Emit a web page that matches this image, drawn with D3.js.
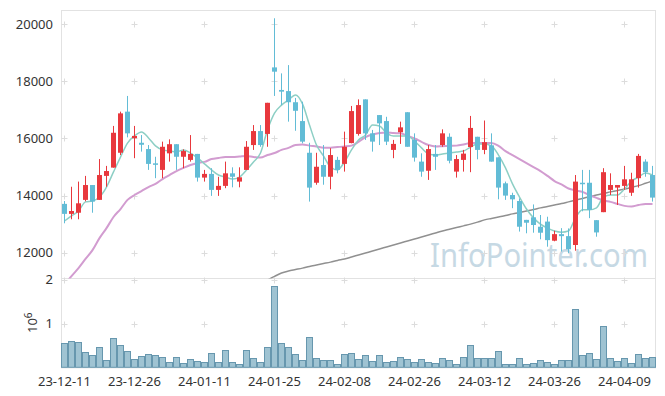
<!DOCTYPE html>
<html>
<head>
<meta charset="utf-8">
<script src="https://cdn.jsdelivr.net/npm/d3@7"></script>
<style>
body{margin:0;background:#fff;}
text{font-family:"Noto Sans",sans-serif;}
</style>
</head>
<body>
<div class="chart-wrapper"></div>
<script>
// trading days, 23-12-11 .. 24-04-16
var dates = ["23-12-11","23-12-12","23-12-13","23-12-14","23-12-15","23-12-18","23-12-19","23-12-20","23-12-21","23-12-22",
  "23-12-26","23-12-27","23-12-28","24-01-02","24-01-03","24-01-04","24-01-05","24-01-08","24-01-09","24-01-10",
  "24-01-11","24-01-12","24-01-15","24-01-16","24-01-17","24-01-18","24-01-19","24-01-22","24-01-23","24-01-24",
  "24-01-25","24-01-26","24-01-29","24-01-30","24-01-31","24-02-01","24-02-02","24-02-05","24-02-06","24-02-07",
  "24-02-08","24-02-13","24-02-14","24-02-15","24-02-16","24-02-19","24-02-20","24-02-21","24-02-22","24-02-23",
  "24-02-26","24-02-27","24-02-28","24-02-29","24-03-04","24-03-05","24-03-06","24-03-07","24-03-08","24-03-11",
  "24-03-12","24-03-13","24-03-14","24-03-15","24-03-18","24-03-19","24-03-20","24-03-21","24-03-22","24-03-25",
  "24-03-26","24-03-27","24-03-28","24-03-29","24-04-01","24-04-02","24-04-03","24-04-04","24-04-05","24-04-08",
  "24-04-09","24-04-11","24-04-12","24-04-15","24-04-16"];

var opens = [13710,13360,13400,13850,14370,13850,14690,14980,15500,16940,
  16010,15850,15630,15130,14900,15480,15800,15360,15250,15460,
  14630,14760,14200,14340,14780,14490,14900,15770,16260,16160,
  18490,17700,17660,17270,16610,15500,14450,15070,14660,15250,
  15110,15840,16160,17370,16180,16820,16610,15600,16220,16920,
  15950,15190,14870,15460,15770,16060,14840,15250,15700,16060,
  15600,15760,15340,14430,14020,13810,13150,13240,12910,13090,
  12420,12650,12580,12270,14450,14450,13140,13420,14200,14280,
  14340,14100,14610,15190,14720];
var highs = [13810,14310,14490,14690,14370,15280,15040,16440,16940,17490,
  16440,16120,15770,15360,15890,15970,15800,15620,16120,15460,
  14900,14960,14660,15190,14990,14990,15910,16470,16470,17250,
  20210,18280,18570,17420,17290,15850,15500,15770,15660,15360,
  16240,17140,17370,17370,16300,16820,16760,15950,16590,16920,
  16180,15480,15770,15770,16320,16180,15420,15600,16790,16060,
  16630,16180,15340,14490,14100,13900,13150,13690,13320,13260,
  12770,12860,12850,14720,14900,14900,13140,14960,14780,14370,
  15040,14800,15460,15270,15040];
var lows = [13030,13170,13170,13800,13400,13850,14310,14980,15420,16040,
  15310,15540,14900,14610,14610,15190,14900,14960,15190,14490,
  14490,13990,13990,14260,14290,14290,14900,15600,15710,15710,
  17490,17170,16590,16270,15830,13790,14380,14380,14220,14780,
  14840,15830,16100,15950,15540,15770,15770,15310,15810,15710,
  15190,14660,14550,14900,15710,15130,14630,14840,14820,15270,
  15450,15190,13870,13850,13560,12740,12680,12700,12470,12210,
  12400,12040,11980,12070,13450,13210,12560,13420,14020,13670,
  14200,13990,14280,14660,13790];
var closes = [13360,13460,13730,14370,13790,14720,14860,16200,16880,16180,
  16090,15780,15110,15080,15710,15800,15360,15560,15460,14630,
  14760,14200,14340,14780,14660,14640,15710,16260,15770,17250,
  18340,17640,17270,16970,15890,14280,15010,14660,15420,14900,
  15710,16960,17170,16180,15890,16530,15890,15810,16390,15710,
  15330,14840,15630,15360,16180,15220,15280,15470,16370,15600,
  15870,15190,14280,14000,13870,12910,13050,12970,12700,12440,
  12650,12580,12120,14490,14400,13500,12710,14820,14370,14370,
  14570,14570,15390,14820,13930];

// volume, millions of shares
var volumes = [0.55,0.60,0.58,0.34,0.27,0.46,0.17,0.66,0.50,0.37,
  0.18,0.25,0.30,0.27,0.23,0.11,0.23,0.09,0.18,0.14,
  0.11,0.32,0.11,0.39,0.11,0.07,0.39,0.21,0.11,0.46,
  1.86,0.55,0.46,0.30,0.16,0.69,0.21,0.16,0.16,0.07,
  0.30,0.32,0.18,0.27,0.14,0.27,0.11,0.14,0.23,0.18,
  0.11,0.18,0.11,0.09,0.21,0.16,0.07,0.23,0.50,0.21,
  0.21,0.21,0.37,0.07,0.07,0.21,0.07,0.09,0.16,0.11,
  0.07,0.16,0.16,1.32,0.27,0.32,0.18,0.94,0.21,0.14,
  0.21,0.09,0.30,0.21,0.23];

// moving averages as drawn
var ma5 = [13110,13290,13460,13780,13810,13950,14300,14830,15350,15840,
  16090,16230,16020,15740,15600,15560,15530,15600,15490,15320,
  15110,14900,14720,14650,14580,14650,14900,15180,15490,16300,
  16890,17170,17350,17520,17210,16470,15770,15390,15000,14900,
  15180,15600,15950,16120,16470,16440,16190,16090,16090,16090,
  15910,15670,15460,15420,15460,15490,15530,15560,15700,15810,
  15810,15740,15420,14970,14410,13950,13530,13220,13000,12860,
  12760,12720,12760,13220,13500,13500,13570,13950,14020,14020,
  14230,14510,14650,14790,14720];
var ma20 = [10870,11180,11460,11780,12090,12510,12860,13250,13530,13850,
  14020,14160,14300,14410,14580,14720,14860,14970,15070,15140,
  15180,15280,15320,15350,15350,15370,15390,15350,15330,15420,
  15490,15600,15670,15770,15790,15750,15720,15680,15680,15700,
  15720,15750,15880,16050,16140,16190,16210,16190,16180,16090,
  16000,15880,15770,15720,15730,15740,15750,15790,15840,15840,
  15840,15840,15740,15560,15420,15280,15140,15000,14860,14690,
  14510,14390,14250,14180,14130,14020,13920,13830,13780,13710,
  13640,13620,13670,13710,13710];
var ma120 = [null,null,null,null,null,null,null,null,null,null,
  null,null,null,null,null,null,null,null,null,null,
  null,null,null,null,null,null,null,null,null,11040,
  11170,11290,11360,11410,11460,11520,11570,11620,11670,11730,
  11780,11850,11920,11990,12060,12130,12200,12270,12340,12410,
  12480,12550,12620,12690,12760,12820,12880,12940,13000,13070,
  13150,13200,13250,13300,13360,13410,13460,13510,13570,13620,
  13670,13720,13780,13840,13900,13960,14020,14070,14130,14180,
  14230,14290,14350,14430,14510];

var priceTicks = [12000,14000,16000,18000,20000];
var volumeTicks = [1,2];
var dateTicks = ["23-12-11","23-12-26","24-01-11","24-01-25","24-02-08","24-02-26","24-03-12","24-03-26","24-04-09"];

var UP = "#e8383d", DOWN = "#62bcd6";

var plotLeft = 61, plotRight = 656, plotTop = 10, plotMid = 278.4, plotBottom = 367.3;

var svg = d3.select(".chart-wrapper").append("svg")
  .attr("width", 665)
  .attr("height", 396);

var x = d3.scaleBand().domain(dates).range([plotLeft, plotRight]).padding(0);
var bw = x.bandwidth();
var cx = function(d){ return x(d) + bw / 2; };

var y = d3.scaleLinear().domain([11100, 20500]).range([plotMid, plotTop]);
var yv = d3.scaleLinear().domain([0, 2.03]).range([plotBottom, plotMid]);

svg.append("clipPath").attr("id", "price-clip")
  .append("rect")
  .attr("x", plotLeft).attr("y", plotTop)
  .attr("width", plotRight - plotLeft).attr("height", plotMid - plotTop);

// watermark
svg.append("text")
  .attr("x", 430).attr("y", 267)
  .attr("textLength", 218)
  .attr("lengthAdjust", "spacingAndGlyphs")
  .style("font-size", "32px")
  .style("fill", "#b9d0de")
  .style("opacity", 0.8)
  .text("InfoPointer.com");

// frame
svg.append("rect")
  .attr("x", plotLeft + 0.5).attr("y", plotTop + 0.5)
  .attr("width", plotRight - plotLeft - 1).attr("height", plotBottom - plotTop)
  .style("fill", "none")
  .style("stroke", "#e2e2e2");
svg.append("line")
  .attr("x1", plotLeft).attr("x2", plotRight)
  .attr("y1", Math.round(plotMid) + 0.5).attr("y2", Math.round(plotMid) + 0.5)
  .style("stroke", "#e2e2e2");

// little crosses on tick intersections
var crossY = priceTicks.map(function(p){ return y(p); })
  .concat(volumeTicks.map(function(v){ return yv(v); }));
var crosses = svg.append("g").attr("class", "crosses");
dateTicks.forEach(function(d){
  crossY.forEach(function(cy){
    var px = Math.floor(cx(d)) + 0.5, py = Math.round(cy) + 0.5;
    crosses.append("path")
      .attr("d", "M" + (px - 3) + "," + py + "H" + (px + 3) + "M" + px + "," + (py - 3) + "V" + (py + 3))
      .style("stroke", "#dcdcdc");
  });
});

// volume bars
svg.append("g").selectAll(".vol")
  .data(volumes)
  .enter().append("rect")
  .attr("class", "vol")
  .attr("x", function(d, i){ return x(dates[i]) + 0.5; })
  .attr("y", function(d){ return Math.round(yv(d)) + 0.5; })
  .attr("width", bw - 1)
  .attr("height", function(d){ return plotBottom - Math.round(yv(d)) - 0.5; })
  .style("fill", "#9fc3d2")
  .style("stroke", "#6797ae")
  .style("stroke-width", 1);

// moving averages
var plot = svg.append("g").attr("clip-path", "url(#price-clip)");
var line = d3.line()
  .defined(function(d){ return d != null; })
  .x(function(d, i){ return cx(dates[i]); })
  .y(function(d){ return y(d); })
  .curve(d3.curveMonotoneX);

plot.append("path").datum(ma120)
  .attr("d", line)
  .style("fill", "none").style("stroke", "#909090").style("stroke-width", 1.5);
plot.append("path").datum(ma20)
  .attr("d", line)
  .style("fill", "none").style("stroke", "#d29cd0").style("stroke-width", 2);
plot.append("path").datum(ma5)
  .attr("d", line)
  .style("fill", "none").style("stroke", "#8dcfc5").style("stroke-width", 1.5);

// candles
var candles = plot.selectAll(".candle")
  .data(dates)
  .enter().append("g")
  .attr("class", "candle");

candles.append("line")
  .attr("x1", function(d){ return Math.floor(cx(d)) + 0.5; })
  .attr("x2", function(d){ return Math.floor(cx(d)) + 0.5; })
  .attr("y1", function(d, i){ return y(highs[i]); })
  .attr("y2", function(d, i){ return y(lows[i]); })
  .style("stroke", function(d, i){ return closes[i] >= opens[i] ? UP : DOWN; })
  .style("stroke-width", 1);

candles.append("rect")
  .attr("x", function(d){ return Math.floor(cx(d)) - 2; })
  .attr("width", 5)
  .attr("y", function(d, i){ return y(Math.max(opens[i], closes[i])); })
  .attr("height", function(d, i){ return Math.max(1.5, Math.abs(y(opens[i]) - y(closes[i]))); })
  .style("fill", function(d, i){ return closes[i] >= opens[i] ? UP : DOWN; });

// axes
var yAxis = svg.append("g")
  .attr("transform", "translate(" + (plotLeft - 5) + ",0)")
  .call(d3.axisLeft(y).tickValues(priceTicks).tickSize(0).tickFormat(d3.format("d")));
var vAxis = svg.append("g")
  .attr("transform", "translate(" + (plotLeft - 5) + ",0)")
  .call(d3.axisLeft(yv).tickValues(volumeTicks).tickSize(0).tickFormat(d3.format("d")));
var xAxis = svg.append("g")
  .attr("transform", "translate(0," + plotBottom + ")")
  .call(d3.axisBottom(x).tickValues(dateTicks).tickSize(0).tickPadding(9));

[yAxis, vAxis, xAxis].forEach(function(a){
  a.select(".domain").remove();
  a.selectAll("text").style("font-size", "13px").style("fill", "#333").style("font-family", "'Noto Sans',sans-serif");
});

var unit = svg.append("text")
  .attr("transform", "translate(37,333) rotate(-90)")
  .style("font-size", "13px")
  .style("fill", "#333");
unit.append("tspan").text("10");
unit.append("tspan").attr("dy", "-5").style("font-size", "10px").text("6");
</script>
</body>
</html>
